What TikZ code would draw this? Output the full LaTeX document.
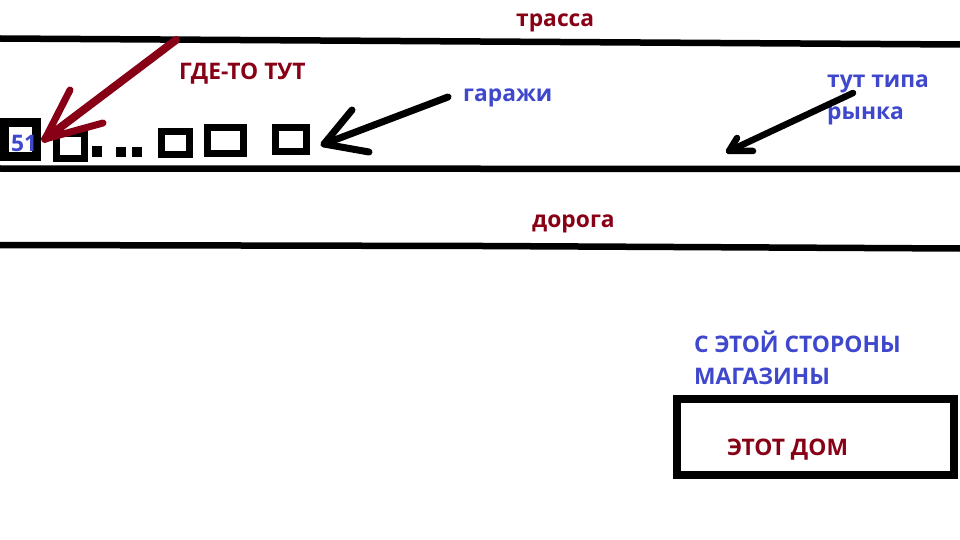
\documentclass[tikz,border=0pt]{standalone}
\usepackage{fontspec}
\setmainfont{Open Sans}
\definecolor{pdred}{HTML}{880015}
\definecolor{pblue}{HTML}{3F48CC}
\begin{document}
\begin{tikzpicture}[x=1pt,y=-1pt,
  roadline/.style={line width=6.5pt},
  gbox/.style={line width=7pt},
  lbl/.style={font=\fontsize{22.8}{26}\selectfont\bfseries, inner sep=0pt, anchor=base west},
  redlbl/.style={lbl, text=pdred},
  bluelbl/.style={lbl, text=pblue},
  brush/.style={line width=7pt, line cap=round, line join=round}]
\useasboundingbox[fill=white] (0,0) rectangle (960,540);
% roads
\coordinate (t0) at (0,38.5); \coordinate (t1) at (960,44.5);
\coordinate (m0) at (0,168.5); \coordinate (m1) at (960,169);
\coordinate (b0) at (0,245); \coordinate (b1) at (483,246); \coordinate (b2) at (960,248.5);
\draw[roadline] (t0) -- (t1);
\draw[roadline] (m0) -- (m1);
\draw[roadline] (b0) -- (b1) -- (b2);
% garages
\draw[line width=9pt] (4.5,122.5) rectangle (36.5,156.5);
\node[bluelbl] (n51) at (11,152) {51};
\draw[gbox] (56.5,133.5) rectangle (84.5,158.5);
\fill (92,146) rectangle (102,157);
\fill (116,147) rectangle (126,157);
\fill (132,147) rectangle (142,157);
\draw[gbox] (161.5,131.5) rectangle (189.5,154.5);
\draw[gbox] (207.5,127.5) rectangle (243.5,153.5);
\draw[gbox] (275.5,127.5) rectangle (306.5,151.5);
% house
\draw[line width=8pt] (677,399) rectangle (954,475);
% labels
\node[redlbl] (trassa) at (516,27) {трасса};
\node[redlbl] (gde) at (179,80) {ГДЕ-ТО ТУТ};
\node[bluelbl] (garazhi) at (463,102) {гаражи};
\node[bluelbl] (tut) at (827,88) {тут типа};
\node[bluelbl] (rynka) at (827,120) {рынка};
\node[redlbl] (doroga) at (532,227) {дорога};
\node[bluelbl] (side1) at (694,352) {С ЭТОЙ СТОРОНЫ};
\node[bluelbl] (side2) at (694,384) {МАГАЗИНЫ};
\node[redlbl] (dom) at (727,455) {ЭТОТ ДОМ};
% red arrow
\coordinate (ra0) at (176,40); \coordinate (ra1) at (45,139);
\coordinate (ra2) at (70,90); \coordinate (ra3) at (103,123);
\draw[brush, pdred, line width=8pt] (ra0) -- (ra1);
\draw[brush, pdred] (ra2) -- (ra1) -- (ra3);
% garage arrow
\coordinate (ga0) at (448,97); \coordinate (ga1) at (324,144);
\coordinate (ga2) at (352,110); \coordinate (ga3) at (369,152);
\draw[brush] (ga0) -- (ga1);
\draw[brush] (ga2) -- (ga1) -- (ga3);
% market arrow
\coordinate (ma0) at (853,93); \coordinate (ma1) at (729,151);
\coordinate (ma2) at (737,138); \coordinate (ma3) at (753,151);
\draw[brush, line width=6.5pt] (ma0) -- (ma1);
\draw[brush, line width=6.5pt] (ma2) -- (ma1) -- (ma3);
\end{tikzpicture}
\end{document}
